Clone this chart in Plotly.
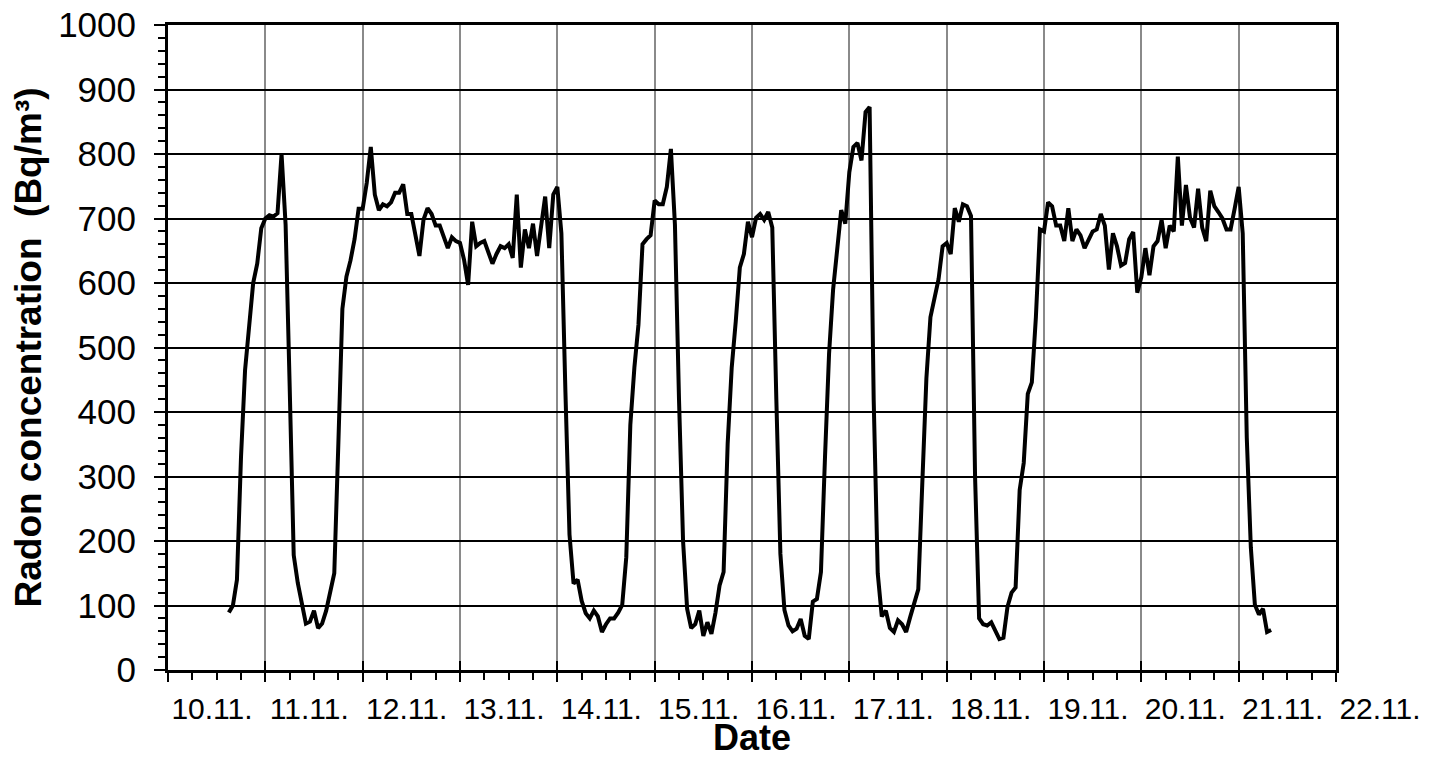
import plotly.graph_objects as go

# Hourly radon concentration, first reading at 10.11. 15:00
start_hour = 15  # hours after 10.11. 00:00
radon = [
    89, 100, 140, 330, 465, 530, 600, 630, 685,                      # 10.11. 15h-23h
    700, 705, 703, 708, 800, 690, 440, 178, 135, 100, 72, 75,         # 11.11.
    92, 65, 72, 92, 120, 150, 350, 560, 610, 635, 668, 715,
    715, 755, 811, 737, 713, 722, 719, 725, 740, 740, 753, 707,       # 12.11.
    707, 671, 642, 698, 716, 707, 689, 689, 671, 654, 671, 665,
    662, 636, 597, 695, 657, 662, 665, 648, 630, 645, 657, 654,       # 13.11.
    660, 639, 737, 624, 683, 654, 692, 642, 689, 734, 654, 737,
    749, 677, 430, 210, 134, 140, 107, 88, 80, 92, 83, 59,            # 14.11.
    71, 80, 80, 89, 101, 175, 380, 469, 535, 660, 668, 674,
    728, 722, 722, 749, 808, 690, 420, 200, 95, 65, 71, 92,           # 15.11.
    53, 74, 56, 89, 131, 152, 351, 469, 541, 624, 645, 695,
    671, 701, 707, 698, 710, 686, 420, 180, 93, 69, 60, 64,           # 16.11.
    79, 53, 48, 106, 110, 152, 330, 490, 590, 650, 713, 692,
    772, 811, 817, 790, 865, 873, 420, 150, 83, 92, 65, 59,           # 17.11.
    77, 71, 59, 82, 106, 125, 291, 452, 547, 579, 606, 657,
    662, 645, 716, 695, 722, 719, 704, 300, 80, 71, 69, 74,           # 18.11.
    61, 48, 50, 98, 120, 128, 279, 321, 428, 446, 547, 683,
    680, 725, 719, 689, 689, 665, 716, 665, 683, 674, 654, 668,       # 19.11.
    680, 683, 707, 689, 621, 677, 657, 627, 631, 668, 679, 585,
    609, 654, 612, 657, 665, 698, 654, 689, 680, 796, 689, 752,       # 20.11.
    701, 686, 746, 686, 665, 743, 719, 710, 700, 683, 683, 715,
    749, 677, 360, 190, 101, 86, 95, 59, 62,                          # 21.11.
]

day_ticks = list(range(13))
day_labels = ["10.11.", "11.11.", "12.11.", "13.11.", "14.11.", "15.11.", "16.11.",
              "17.11.", "18.11.", "19.11.", "20.11.", "21.11.", "22.11."]

x_days = [(start_hour + i) / 24 for i in range(len(radon))]

FONT = "Arial, Liberation Sans, sans-serif"

fig = go.Figure()
fig.add_trace(go.Scatter(
    x=x_days, y=radon, mode="lines",
    line=dict(color="black", width=4),
    showlegend=False, hoverinfo="skip",
))
# empty trace on an overlay axis that carries the inward half of the major x ticks
fig.add_trace(go.Scatter(x=[0, 12], y=[None, None], xaxis="x2", mode="lines",
                         showlegend=False, hoverinfo="skip"))

# the page body has an 8px default margin, so the figure is 8px smaller
fig.update_layout(
    width=1431, height=750,
    margin=dict(l=160, r=103, t=17, b=88, autoexpand=False),
    paper_bgcolor="white", plot_bgcolor="white",
    font=dict(family=FONT, color="black"),
    xaxis=dict(
        range=[0, 12], tickvals=day_ticks, ticktext=day_labels,
        automargin=False,
        ticks="outside", ticklen=9, tickwidth=2, tickcolor="black",
        ticklabelshift=44, ticklabelstandoff=1, ticklabeloverflow="allow",
        tickfont=dict(size=30, family=FONT, color="black"),
        showgrid=True, gridcolor="#8a8a8a", gridwidth=1.5,
        showline=True, linecolor="black", linewidth=3, mirror=True,
        zeroline=False,
        minor=dict(dtick=0.25, tick0=0, ticks="outside", ticklen=7,
                   tickwidth=2, tickcolor="black", showgrid=False),
        title=dict(text="<b>Date</b>", font=dict(size=36, family=FONT, color="black"),
                   standoff=3),
    ),
    xaxis2=dict(
        range=[0, 12], overlaying="x", anchor="y", side="bottom",
        automargin=False,
        tickvals=day_ticks, ticks="inside", ticklen=9, tickwidth=2,
        tickcolor="black", showticklabels=False, showgrid=False,
        showline=False, zeroline=False,
    ),
    yaxis=dict(
        range=[0, 1000], tick0=0, dtick=100,
        automargin=False,
        ticks="outside", ticklen=11, tickwidth=2, tickcolor="black",
        ticklabelstandoff=11, ticklabeloverflow="allow",
        tickfont=dict(size=35, family=FONT, color="black"),
        showgrid=True, gridcolor="black", gridwidth=1.5,
        showline=True, linecolor="black", linewidth=3, mirror=True,
        zeroline=False,
        minor=dict(dtick=20, tick0=0, ticks="outside", ticklen=7,
                   tickwidth=2, tickcolor="black", showgrid=False),
        title=dict(text="<b>Radon concentration  (Bq/m³)</b>",
                   font=dict(size=37, family=FONT, color="black"),
                   standoff=14),
    ),
)

fig.write_html("out.html")
